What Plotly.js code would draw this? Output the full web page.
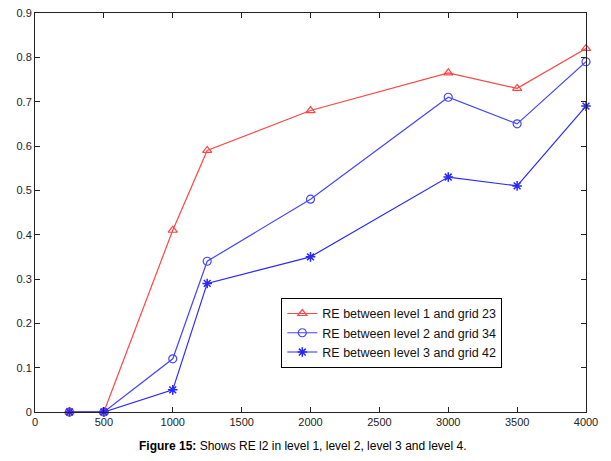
<!DOCTYPE html>
<html>
<head>
<meta charset="utf-8">
<script src="https://cdn.plot.ly/plotly-3.0.1.min.js"></script>
<style>html,body{margin:0;padding:0;background:#fff;}#chart{width:611px;height:461px;}</style>
</head>
<body>
<div id="chart"></div>
<script>
const gridSizes = [250, 500, 1000, 1250, 2000, 3000, 3500, 4000];
const reLevel1 = [0, 0, 0.41, 0.59, 0.68, 0.765, 0.73, 0.82];
const reLevel2 = [0, 0, 0.12, 0.34, 0.48, 0.71, 0.65, 0.79];
const reLevel3 = [0, 0, 0.05, 0.29, 0.35, 0.53, 0.51, 0.69];
const seriesNames = ['RE between level 1 and grid 23', 'RE between level 2 and grid 34', 'RE between level 3 and grid 42'];
const xTicks = [0, 500, 1000, 1500, 2000, 2500, 3000, 3500, 4000];
const yTicks = [0, 0.1, 0.2, 0.3, 0.4, 0.5, 0.6, 0.7, 0.8, 0.9];

const red = 'rgb(255,70,70)';
const blue = 'rgb(70,70,255)';
const traces = [
  {x: gridSizes, y: reLevel1, name: seriesNames[0], mode: 'lines+markers', cliponaxis: false,
   line: {color: red, width: 1.2}, marker: {symbol: 'triangle-up-open', size: 8, color: red, line: {width: 1.2}}},
  {x: gridSizes, y: reLevel2, name: seriesNames[1], mode: 'lines+markers', cliponaxis: false,
   line: {color: blue, width: 1.2}, marker: {symbol: 'circle-open', size: 8, color: blue, line: {width: 1.2}}},
  {x: gridSizes, y: reLevel3, name: seriesNames[2], mode: 'lines+markers', cliponaxis: false,
   line: {color: 'rgb(40,40,255)', width: 1.2}, marker: {symbol: 'asterisk-open', size: 8, color: 'rgb(40,40,255)', line: {width: 1.5, color: 'rgb(40,40,255)'}}}
];
const axisCommon = {
  showgrid: false, zeroline: false, showline: true, linecolor: '#222', linewidth: 1,
  mirror: 'allticks', ticks: 'inside', ticklen: 5, tickcolor: '#222',
  tickfont: {family: 'Liberation Sans, Arial, sans-serif', size: 11, color: '#222'}
};
const layout = {
  width: 611, height: 461,
  margin: {l: 35, r: 25, t: 13, b: 49},
  paper_bgcolor: '#fff', plot_bgcolor: '#fff',
  showlegend: true,
  xaxis: Object.assign({}, axisCommon, {range: [0, 4000], tickvals: xTicks, ticktext: xTicks.map(String)}),
  yaxis: Object.assign({}, axisCommon, {range: [0, 0.9], tickvals: yTicks, ticktext: yTicks.map(v => String(v))}),
  legend: {x: 0.447, y: 0.286, xanchor: 'left', yanchor: 'top', bgcolor: '#fff', bordercolor: '#000', borderwidth: 1,
    font: {family: 'Liberation Sans, Arial, sans-serif', size: 12.5, color: '#111'}, tracegroupgap: 0, itemwidth: 30},
  annotations: [{
    text: '<b>Figure 15:</b> Shows RE l2 in level 1, level 2, level 3 and level 4.',
    xref: 'paper', yref: 'paper', x: 0.487, y: -0.085, xanchor: 'center', yanchor: 'middle', showarrow: false,
    font: {family: 'Liberation Sans, Arial, sans-serif', size: 12, color: '#000'}
  }]
};
Plotly.newPlot('chart', traces, layout, {displayModeBar: false, staticPlot: true});
</script>
</body>
</html>
